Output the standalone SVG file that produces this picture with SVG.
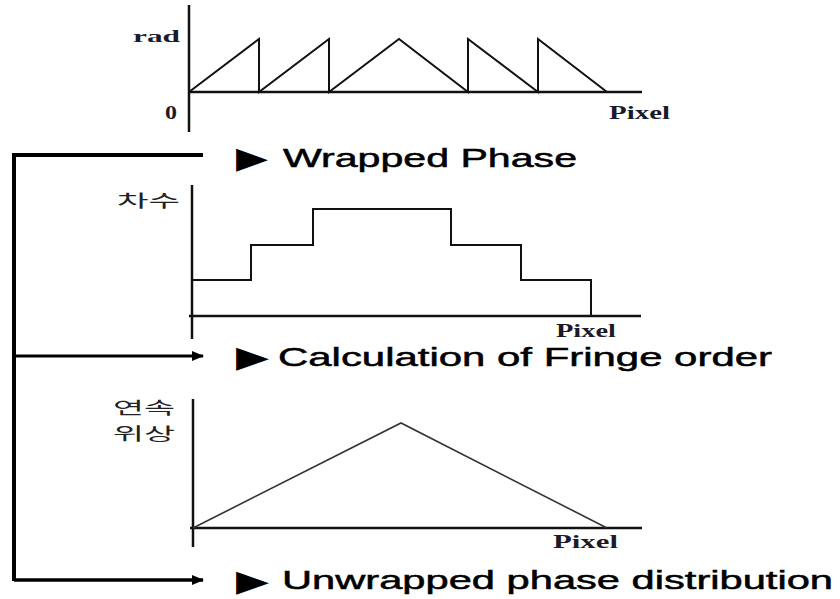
<svg xmlns="http://www.w3.org/2000/svg" width="840" height="599" viewBox="0 0 840 599">
<defs>
<style>
.ax{stroke:#111;stroke-width:2.5;fill:none}
.ln{stroke:#111;stroke-width:2;fill:none;stroke-linejoin:miter}
.thin{stroke:#333;stroke-width:1.6;fill:none}
.br{stroke:#000;stroke-width:4;fill:none}
.ser{font-family:"Liberation Serif","DejaVu Serif",serif;fill:#1a1a2a}
.kor{font-family:"Noto Sans CJK KR","Noto Sans",sans-serif;font-size:17px;fill:#222}
.big{font-family:"Liberation Sans","DejaVu Sans",sans-serif;font-size:26px;fill:#000;stroke:#000;stroke-width:0.5}
.tri{font-family:"DejaVu Sans",sans-serif;font-size:30px;fill:#000}
</style>
<marker id="ah" viewBox="0 0 12 10" refX="11" refY="5" markerWidth="12" markerHeight="10" markerUnits="userSpaceOnUse" orient="auto">
<path d="M0,0 L12,5 L0,10 Z" fill="#000"/>
</marker>
</defs>
<rect width="840" height="599" fill="#fff"/>

<g id="chart-wrapped">
<line class="ax" x1="189" y1="5" x2="189" y2="132"/>
<line class="ax" x1="189" y1="92" x2="642" y2="92"/>
<polyline class="ln" points="189,92 259,39 259,92 329,39 329,92 399,39 468,92 468,39 538,92 538,39 607,92"/>
<text class="ser" x="133" y="42" font-size="17" font-weight="bold" textLength="47" lengthAdjust="spacingAndGlyphs">rad</text>
<text class="ser" x="165" y="119" font-size="18" font-weight="bold" textLength="12" lengthAdjust="spacingAndGlyphs">0</text>
<text class="ser" x="609" y="119" font-size="19" font-weight="bold" textLength="61" lengthAdjust="spacingAndGlyphs">Pixel</text>
</g>

<g id="chart-order">
<line class="ax" x1="192" y1="185" x2="192" y2="339"/>
<line class="ax" x1="189" y1="316" x2="641" y2="316"/>
<polyline class="ln" points="192,280 251,280 251,245 313,245 313,209 451,209 451,245 521,245 521,280 591,280 591,316"/>
<text class="kor" x="117" y="207" font-size="19" textLength="63" lengthAdjust="spacingAndGlyphs">차수</text>
<text class="ser" x="556" y="337" font-size="18" font-weight="bold" textLength="60" lengthAdjust="spacingAndGlyphs">Pixel</text>
</g>

<g id="chart-unwrapped">
<line class="ax" x1="193" y1="399" x2="193" y2="547"/>
<line class="ax" x1="190" y1="528" x2="642" y2="528"/>
<polyline class="thin" points="193,528 401,423 607,528"/>
<text class="kor" x="113" y="414" textLength="62" lengthAdjust="spacingAndGlyphs">연속</text>
<text class="kor" x="113" y="440" textLength="62" lengthAdjust="spacingAndGlyphs">위상</text>
<text class="ser" x="553" y="548" font-size="19" font-weight="bold" textLength="65" lengthAdjust="spacingAndGlyphs">Pixel</text>
</g>

<g id="connectors">
<path class="br" d="M14,581 L14,155 L203,155"/>
<line x1="14" y1="356" x2="203" y2="356" stroke="#000" stroke-width="3" marker-end="url(#ah)"/>
<line x1="14" y1="580" x2="203" y2="580" stroke="#000" stroke-width="3.5" marker-end="url(#ah)"/>
</g>

<g id="label-wrapped">
<text class="tri" x="236" y="168" textLength="32" lengthAdjust="spacingAndGlyphs">▶</text>
<text class="big" x="283" y="167" textLength="294" lengthAdjust="spacingAndGlyphs">Wrapped Phase</text>
</g>
<g id="label-order">
<text class="tri" x="236" y="367" textLength="33" lengthAdjust="spacingAndGlyphs">▶</text>
<text class="big" x="278" y="366" stroke-width="0.2" textLength="494" lengthAdjust="spacingAndGlyphs">Calculation of Fringe order</text>
</g>
<g id="label-unwrapped">
<text class="tri" x="236" y="591" textLength="33" lengthAdjust="spacingAndGlyphs">▶</text>
<text class="big" x="282" y="589" textLength="551" lengthAdjust="spacingAndGlyphs">Unwrapped phase distribution</text>
</g>
</svg>
